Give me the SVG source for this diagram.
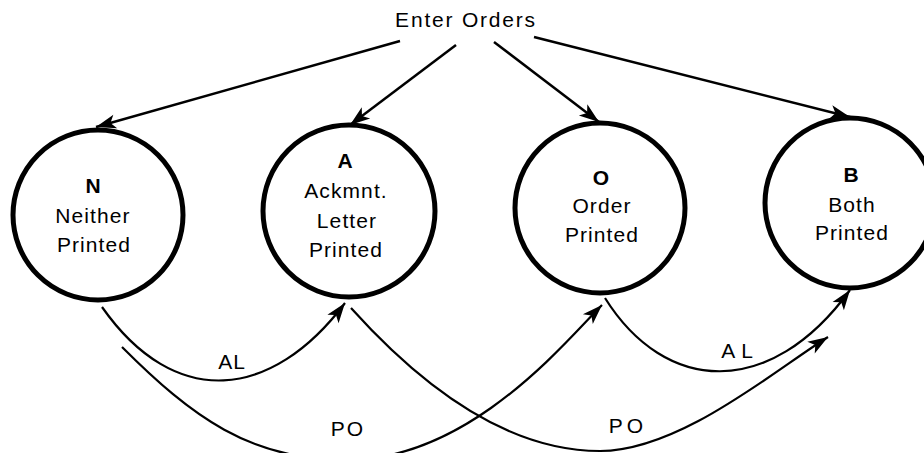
<svg xmlns="http://www.w3.org/2000/svg" width="924" height="453" viewBox="0 0 924 453">
  <style>
    .state { fill: #fff; stroke: #000; stroke-width: 5; }
    .lbl { font-family: "Liberation Sans", Arial, Helvetica, sans-serif; font-size: 21px; fill: #000; text-anchor: middle; letter-spacing: 1.1px; }
    .key { font-weight: bold; letter-spacing: 0; }
    .edge { fill: none; stroke: #000; stroke-width: 2.2; marker-end: url(#head); }
    .entry { stroke-width: 2.5; }
    .elbl { font-family: "Liberation Sans", Arial, Helvetica, sans-serif; font-size: 21px; fill: #000; text-anchor: middle; }
  </style>
  <defs>
    <marker id="head" markerUnits="userSpaceOnUse" viewBox="-21 -8 22 16" markerWidth="22" markerHeight="16" refX="0" refY="0" orient="auto">
      <path d="M0,0 L-20,-7 L-15,0 L-20,7 Z" fill="#000"/>
    </marker>
  </defs>

  <rect width="924" height="453" fill="#fff"/>

  <g id="enter-orders">
    <text class="elbl" x="466" y="27" font-size="20" letter-spacing="1.8">Enter Orders</text>
  </g>

  <g id="state-N">
    <circle class="state" cx="98" cy="215" r="85"/>
    <text class="lbl key" x="93" y="193">N</text>
    <text class="lbl" x="93" y="223">Neither</text>
    <text class="lbl" x="94" y="252">Printed</text>
  </g>

  <g id="state-A">
    <circle class="state" cx="349" cy="211" r="86"/>
    <text class="lbl key" x="345" y="168">A</text>
    <text class="lbl" x="346" y="198">Ackmnt.</text>
    <text class="lbl" x="347" y="228">Letter</text>
    <text class="lbl" x="346" y="257">Printed</text>
  </g>

  <g id="state-O">
    <circle class="state" cx="600" cy="208" r="85"/>
    <text class="lbl key" x="601" y="185">O</text>
    <text class="lbl" x="602" y="213">Order</text>
    <text class="lbl" x="602" y="242">Printed</text>
  </g>

  <g id="state-B">
    <circle class="state" cx="850" cy="203" r="85"/>
    <text class="lbl key" x="851" y="182">B</text>
    <text class="lbl" x="852" y="212">Both</text>
    <text class="lbl" x="852" y="240">Printed</text>
  </g>

  <g id="connectors">
    <!-- entry transitions -->
    <path class="edge entry" d="M400,41 L96,127"/>
    <path class="edge entry" d="M456,45 L350,125"/>
    <path class="edge entry" d="M494,42 L599,122"/>
    <path class="edge entry" d="M534,37 L850,117"/>

    <!-- AL: N to A -->
    <path class="edge" d="M102,307 C175,411 272,400 345,303"/>
    <!-- PO: N to O -->
    <path class="edge" d="M122,347 C192,417 250,460 346,460 C470,460 565,342 602,305"/>
    <!-- PO: A to B -->
    <path class="edge" d="M351,308 C405,368 495,451 600,451 C680,451 775,370 828,337"/>
    <!-- AL: O to B -->
    <path class="edge" d="M605,298 C665,394 770,400 850,290"/>

    <text class="elbl" x="232" y="369" letter-spacing="1">AL</text>
    <text class="elbl" x="348" y="436" letter-spacing="2">PO</text>
    <text class="elbl" x="628" y="433" letter-spacing="4">PO</text>
    <text class="elbl" x="740" y="358" letter-spacing="6">AL</text>
  </g>
</svg>
